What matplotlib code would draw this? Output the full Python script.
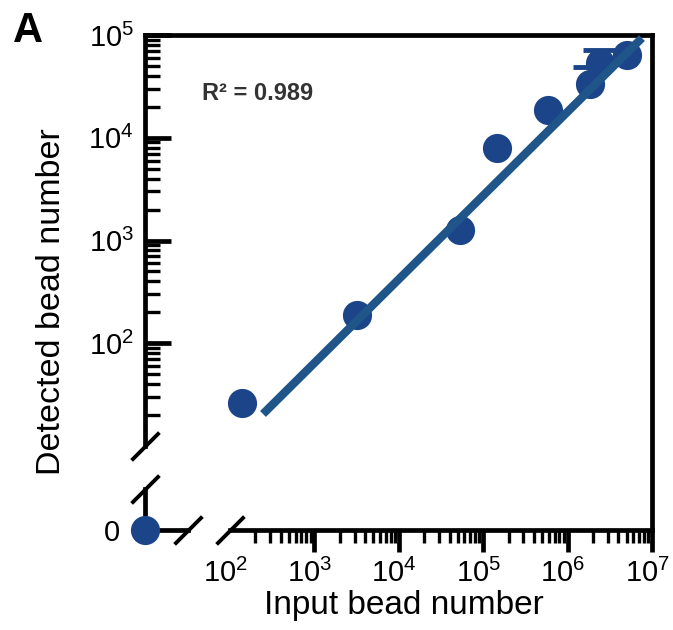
import numpy as np
import matplotlib
matplotlib.use("Agg")
import matplotlib.pyplot as plt
import matplotlib.transforms as mtransforms

plt.rcParams['font.family'] = ['Liberation Sans', 'DejaVu Sans']
plt.rcParams['mathtext.default'] = 'regular'

# data
input_beads = [139, 3200, 53100, 145600, 586000, 1.84e6, 2.42e6, 5.06e6]
detected_beads = [26.2, 188, 1265, 7940, 18600, 33300, 53300, 63800]
err_x = [1.84e6, 2.42e6]
err_y = [33300, 53300]
err_up = [15600, 18100]
zero_x = [0]
zero_y = [0]
fit_x = [246, 7.6e6]
fit_y = [20.5, 9.35e4]
r2_text = "R\u00b2 = 0.989"

x_major = [1e2, 1e3, 1e4, 1e5, 1e6, 1e7]
x_labels = [r'$10^{2}$', r'$10^{3}$', r'$10^{4}$', r'$10^{5}$', r'$10^{6}$', r'$10^{7}$']
y_major = [1e2, 1e3, 1e4, 1e5]
y_labels = [r'$10^{2}$', r'$10^{3}$', r'$10^{4}$', r'$10^{5}$']

dot_color = '#1b4588'
line_color = '#1f5589'

fig = plt.figure(figsize=(6.73, 6.3), dpi=100)
W, H = 673, 630

# main log-log axes
ax = fig.add_axes([145 / W, 100 / H, 507 / W, 495 / H])
ax.set_xscale('log')
ax.set_yscale('log')
ax.set_xlim(10 ** 0.993, 1e7)
ax.set_ylim(10 ** 0.1825, 1e5)
ax.set_facecolor('none')

for s in ax.spines.values():
    s.set_linewidth(3.4)
ax.spines['left'].set_bounds(10, 1e5)
ax.spines['bottom'].set_bounds(100, 1e7)

ax.set_xticks(x_major, labels=x_labels)
ax.set_xticks([k * 10 ** d for d in range(2, 7) for k in range(2, 10)], minor=True)
ax.set_yticks(y_major, labels=y_labels)
ax.set_yticks([k * 10 ** d for d in range(1, 5) for k in range(2, 10)], minor=True)
ax.tick_params(axis='x', which='major', direction='out', length=16, width=3.4, pad=5, labelsize=21)
ax.tick_params(axis='x', which='minor', direction='out', length=9, width=2.4)
ax.tick_params(axis='y', which='major', direction='in', length=19, width=3.4, pad=8, labelsize=21)
ax.tick_params(axis='y', which='minor', direction='in', length=10.5, width=2.4)
ax.xaxis.get_major_ticks()[0].tick1line.set_visible(False)
shift = mtransforms.ScaledTranslation(-5 / 100, 0, fig.dpi_scale_trans)
for lab in ax.get_xticklabels():
    lab.set_transform(lab.get_transform() + shift)

ax.plot(input_beads, detected_beads, 'o', color=dot_color, markersize=21, mew=0, zorder=3, clip_on=False)
eb = ax.errorbar(err_x, err_y, yerr=[[0, 0], err_up], fmt='none', ecolor=dot_color,
                 elinewidth=3.5, capsize=12.5, capthick=3.5, zorder=2)
eb[1][0].set_visible(False)
ax.plot(fit_x, fit_y, color=line_color, linewidth=6, solid_capstyle='butt', zorder=4)

ax.set_xlabel("Input bead number", fontsize=24)
ax.xaxis.set_label_coords(0.511, -0.1535)
ax.xaxis.label.set_va('center')
ax.set_ylabel("Detected bead number", fontsize=24.5)
ax.yaxis.set_label_coords(-0.185, 0.4606)
ax.yaxis.label.set_va('center')

# small axes for the zero point
zax = fig.add_axes([145 / W, 100 / H, 43 / W, 41 / H])
zax.set_xlim(0, 1)
zax.set_ylim(0, 1)
zax.set_facecolor('none')
zax.spines['top'].set_visible(False)
zax.spines['right'].set_visible(False)
zax.spines['left'].set_linewidth(3.4)
zax.spines['bottom'].set_linewidth(3.4)
zax.set_xticks([])
zax.set_yticks([0], labels=['0'])
zax.tick_params(axis='y', length=0, pad=18, labelsize=21)
zax.plot(zero_x, zero_y, 'o', color=dot_color, markersize=21, mew=0, clip_on=False, zorder=5)

# break marks
kw = dict(marker=[(-1, -1), (1, 1)], markersize=20, linestyle='none', color='k',
          mec='k', mew=2.8, clip_on=False)
ax.plot([0], [10], transform=ax.get_yaxis_transform(), **kw)
ax.plot([100], [0], transform=ax.get_xaxis_transform(), **kw)
zax.plot([0], [1], transform=zax.transAxes, **kw)
zax.plot([1], [0], transform=zax.transAxes, **kw)

fig.text(202 / W, 1 - 93 / H, r2_text, fontsize=17, fontweight='bold', color='#333333',
         ha='left', va='center')
fig.text(28 / W, 1 - 31 / H, 'A', fontsize=30, fontweight='bold', ha='center', va='center')

fig.savefig('out.png', dpi=100)
